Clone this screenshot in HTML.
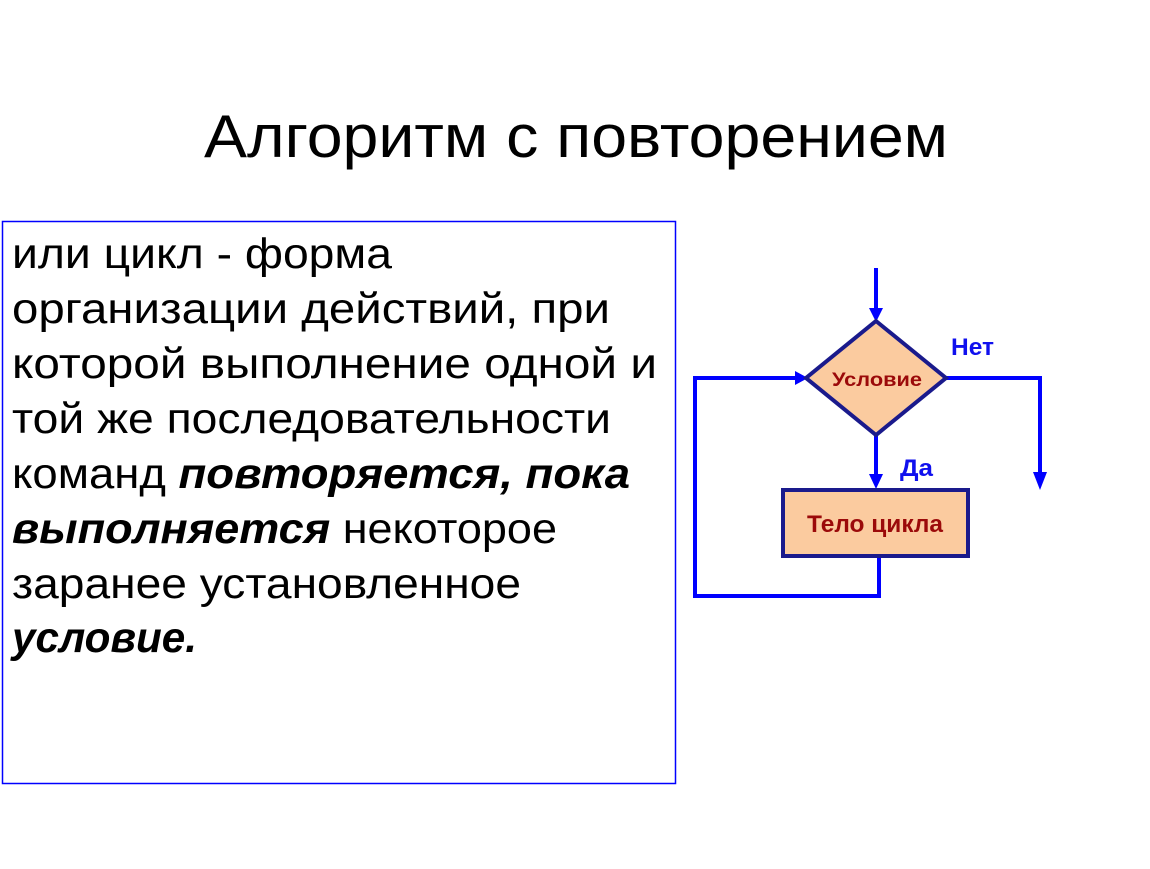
<!DOCTYPE html>
<html><head><meta charset="utf-8"><style>html,body{margin:0;padding:0;background:#fff}</style></head>
<body>
<svg width="1150" height="864" xmlns="http://www.w3.org/2000/svg" font-family="'Liberation Sans', sans-serif">
<rect x="0" y="0" width="1150" height="864" fill="#fff"/>
<text x="204" y="157" font-size="60" textLength="744" lengthAdjust="spacingAndGlyphs" fill="#000">Алгоритм с повторением</text>
<rect x="2.5" y="221.5" width="673" height="562" fill="none" stroke="#0000ff" stroke-width="1.5"/>
<g font-size="43" fill="#000">
<text x="12" y="268" textLength="380" lengthAdjust="spacingAndGlyphs">или цикл - форма</text>
<text x="12" y="323" textLength="598" lengthAdjust="spacingAndGlyphs">организации действий, при</text>
<text x="12" y="378" textLength="645" lengthAdjust="spacingAndGlyphs">которой выполнение одной и</text>
<text x="12" y="433" textLength="599" lengthAdjust="spacingAndGlyphs">той же последовательности</text>
<text x="12" y="488" textLength="618" lengthAdjust="spacingAndGlyphs">команд <tspan font-weight="bold" font-style="italic">повторяется, пока</tspan></text>
<text x="12" y="543" textLength="545" lengthAdjust="spacingAndGlyphs"><tspan font-weight="bold" font-style="italic">выполняется</tspan> некоторое</text>
<text x="12" y="598" textLength="509" lengthAdjust="spacingAndGlyphs">заранее установленное</text>
<text x="12" y="652" textLength="185" lengthAdjust="spacingAndGlyphs" font-weight="bold" font-style="italic">условие.</text>
</g>
<g stroke="#0000ff" stroke-width="4" fill="none">
<line x1="876" y1="268" x2="876" y2="312"/>
<polyline points="946,378 1040,378 1040,474"/>
<line x1="876" y1="435" x2="876" y2="476"/>
<polyline points="879,556 879,596 695,596 695,378 796,378"/>
</g>
<g fill="#0000ff">
<polygon points="869,308 883,308 876,322"/>
<polygon points="1033,472 1047,472 1040,490"/>
<polygon points="869,474 883,474 876,489"/>
<polygon points="795,371 795,385 808,378"/>
</g>
<polygon points="876,321 946,378 876,435 806,378" fill="#fbcb9f" stroke="#1a1a8c" stroke-width="4"/>
<rect x="783" y="490" width="185" height="66" fill="#fbcb9f" stroke="#1a1a8c" stroke-width="4"/>
<text x="832" y="386" font-size="19" font-weight="bold" fill="#9b0a0a" textLength="90" lengthAdjust="spacingAndGlyphs">Условие</text>
<text x="807" y="532" font-size="24" font-weight="bold" fill="#9b0a0a" textLength="136" lengthAdjust="spacingAndGlyphs">Тело цикла</text>
<text x="951" y="355" font-size="24" font-weight="bold" fill="#1010ee" textLength="43" lengthAdjust="spacingAndGlyphs">Нет</text>
<text x="900" y="476" font-size="24" font-weight="bold" fill="#1010ee" textLength="33" lengthAdjust="spacingAndGlyphs">Да</text>
</svg>
</body></html>
